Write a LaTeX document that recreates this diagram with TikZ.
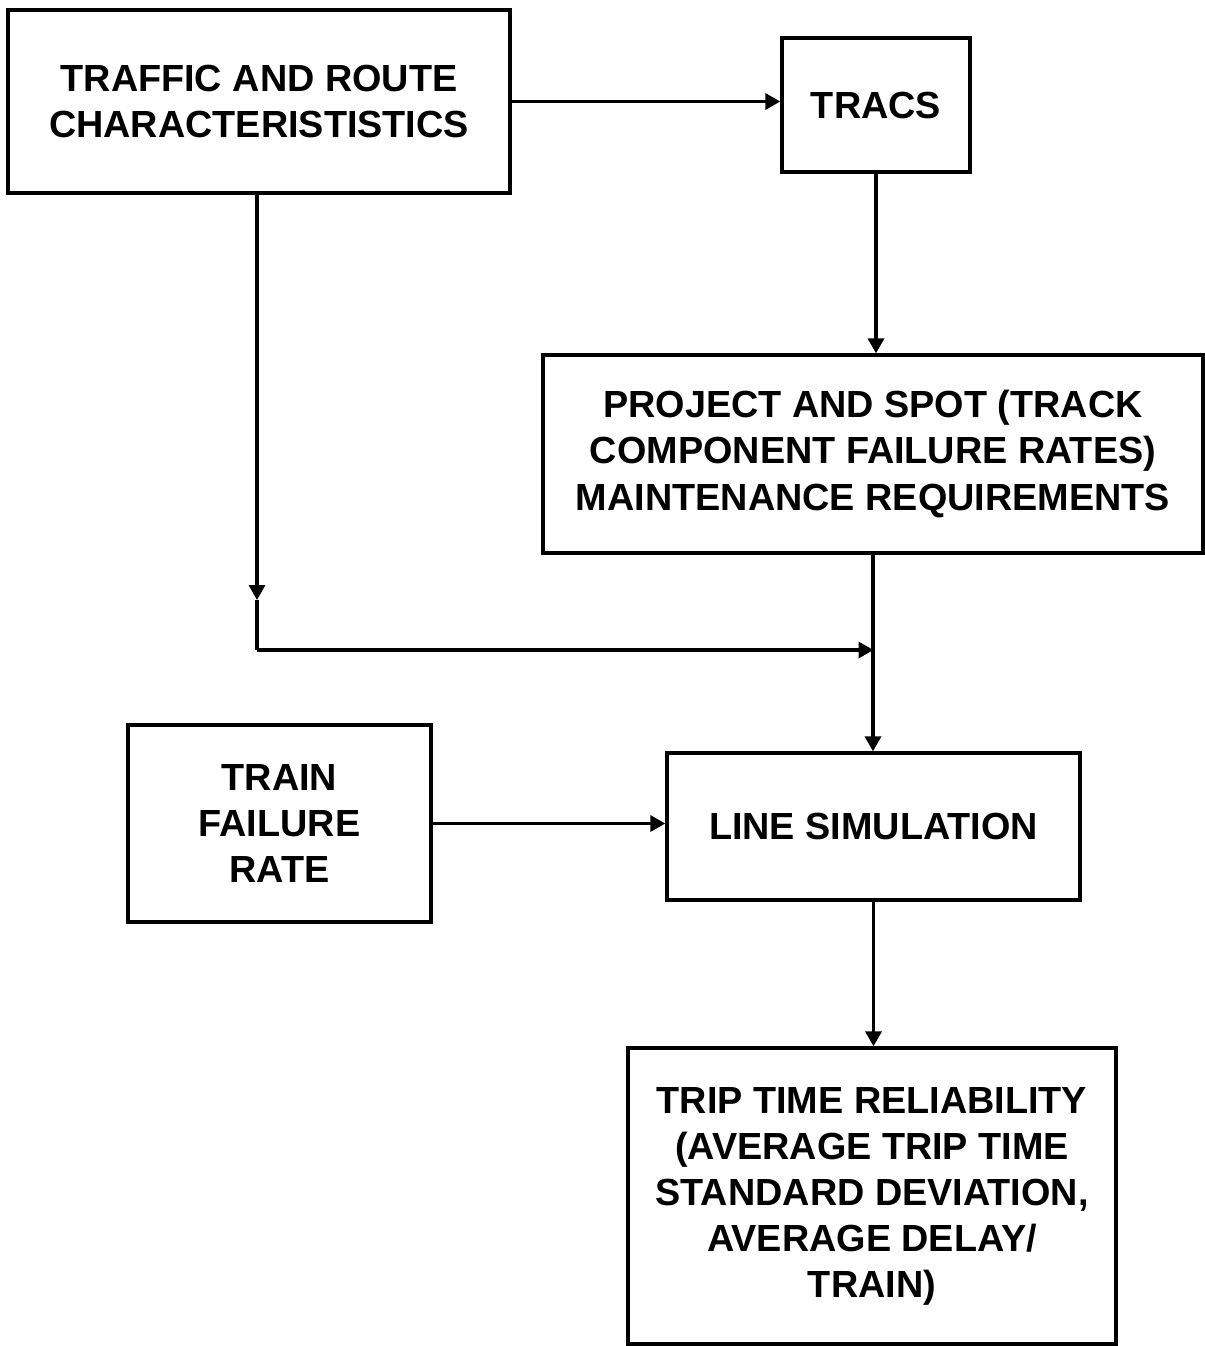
\documentclass[tikz,border=0pt]{standalone}
\usepackage{fontspec}
\setmainfont{Liberation Sans}
\usetikzlibrary{arrows.meta}
\begin{document}
\begin{tikzpicture}[
  box/.style={draw, line width=1.9pt, align=center, inner sep=0pt,
    font=\fontsize{21.5}{26.2}\selectfont\bfseries},
  arr/.style={line width=1.9pt, -{Triangle[length=0.3cm,width=0.32cm]}},
  ln/.style={line width=1.9pt}
]
\useasboundingbox (0,0) rectangle (24.1,-26.92);
\node[box, minimum width=10.04cm, minimum height=3.66cm] (traffic) at (5.18,-2.03) {TRAFFIC AND ROUTE\\CHARACTERISTISTICS};
\node[box, minimum width=3.76cm, minimum height=2.68cm] (tracs) at (17.52,-2.10) {TRACS};
\node[box, minimum width=13.2cm, minimum height=3.96cm] (proj) at (17.46,-9.08) {PROJECT AND SPOT (TRACK\\COMPONENT FAILURE RATES)\\MAINTENANCE REQUIREMENTS};
\node[box, minimum width=6.06cm, minimum height=3.94cm] (train) at (5.59,-16.47) {TRAIN\\FAILURE\\RATE};
\node[box, minimum width=8.26cm, minimum height=2.94cm] (line) at (17.47,-16.53) {LINE SIMULATION};
\node[box, minimum width=9.76cm, minimum height=5.92cm] (trip) at (17.44,-23.92) {TRIP TIME RELIABILITY\\(AVERAGE TRIP TIME\\STANDARD DEVIATION,\\AVERAGE DELAY/\\TRAIN)};
\coordinate (top1) at (5.14,-3.86);
\coordinate (mid1) at (5.14,-12.0);
\coordinate (corner) at (5.14,-13.0);
\draw[arr] (traffic.east) -- (traffic.east -| tracs.west);
\draw[arr] (tracs.south) -- (tracs.south |- proj.north);
\draw[arr] (top1) -- (mid1);
\draw[ln] (mid1) -- (corner);
\draw[arr] (corner) -- (corner -| line.north);
\draw[arr] (proj.south) -- (proj.south |- line.north);
\draw[arr] (train.east) -- (train.east -| line.west);
\draw[arr] (line.south) -- (line.south |- trip.north);
\end{tikzpicture}
\end{document}
